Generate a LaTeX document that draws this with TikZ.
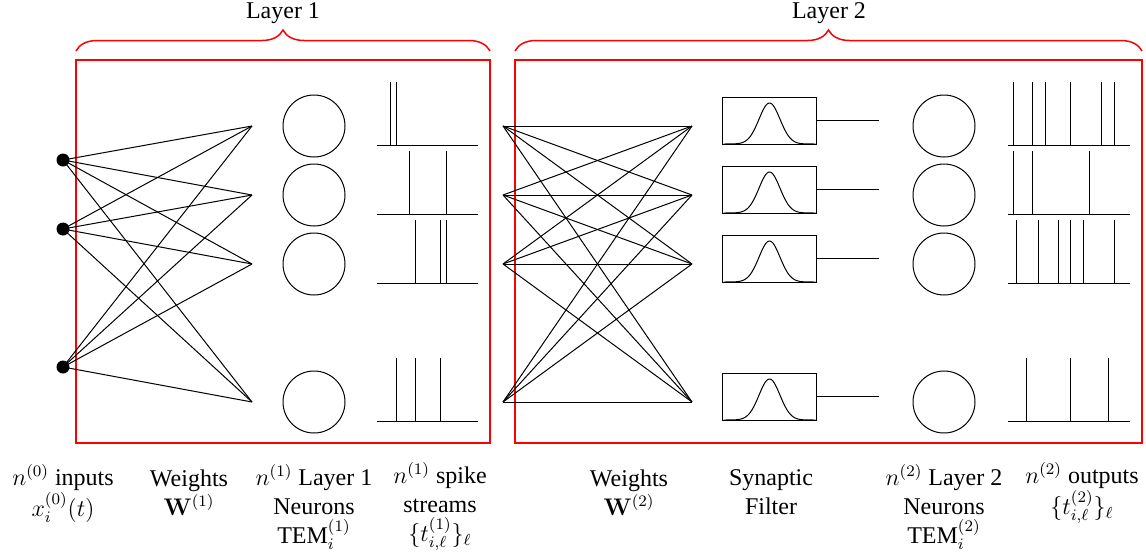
\documentclass[tikz,border=0pt]{standalone}
\usepackage[no-math]{fontspec}
\setmainfont{Liberation Serif}
\usetikzlibrary{decorations.pathreplacing}
\begin{document}
\begin{tikzpicture}[x=0.5pt,y=-0.5pt,
  every node/.style={font=\fontsize{12}{14.6}\selectfont},
  wire/.style={line width=0.5pt},
  redframe/.style={draw=red, line width=0.75pt},
  redbrace/.style={draw=red, line width=0.75pt, decorate, decoration={brace, amplitude=10.5pt}},
  inputdot/.style={circle, fill=black, inner sep=0pt, minimum size=6.5pt},
  neuron/.style={circle, draw, line width=0.5pt, inner sep=0pt, minimum size=31pt},
  filterbox/.style={rectangle, draw, line width=0.5pt, inner sep=0pt, minimum width=47pt, minimum height=23.5pt},
  spike/.style={line width=0.5pt},
  caption/.style={align=center, anchor=north, inner sep=0pt}
]
\useasboundingbox (0,0) rectangle (1146,552);

% frames and braces
\draw[redframe] (76,60) rectangle (490,443);
\draw[redframe] (515,60) rectangle (1142,443);
\draw[redbrace] (76,51) -- (490,51);
\draw[redbrace] (515,51) -- (1142,51);
\node[anchor=base] (lab1) at (283,18.5) {Layer 1};
\node[anchor=base] (lab2) at (829,18.5) {Layer 2};

% inputs
\node[inputdot] (in1) at (63,160) {};
\node[inputdot] (in2) at (63,229) {};
\node[inputdot] (in3) at (63,367) {};

% rows
\foreach \i/\c in {1/126,2/195,3/264,4/402}{
  \coordinate (w1\i) at (252,\c);
  \coordinate (w2a\i) at (503,\c);
  \coordinate (w2b\i) at (692,\c);
  \node[neuron] (n1\i) at (314,\c) {};
  \node[neuron] (n2\i) at (944,\c) {};
  \node[filterbox] (f\i) at (769.5,\c-5.5) {};
  \coordinate (fo\i) at (879,\c-5.5);
  \draw[wire] (f\i.east) -- (fo\i);
  \draw[wire] plot[domain=-46:46, samples=70, smooth] ({769.5+\x},{\c+18-41*exp(-(\x*\x)/220)});
  \coordinate (s1a\i) at (377,\c+19);
  \coordinate (s1b\i) at (478,\c+19);
  \draw[wire] (s1a\i) -- (s1b\i);
  \coordinate (s2a\i) at (1008,\c+19);
  \coordinate (s2b\i) at (1130,\c+19);
  \draw[wire] (s2a\i) -- (s2b\i);
}

% layer 1 weights
\foreach \a in {1,2,3}{
  \foreach \b in {1,2,3,4}{
    \draw[wire] (in\a.center) -- (w1\b);
  }
}
% layer 2 weights
\foreach \a in {1,2,3,4}{
  \foreach \b in {1,2,3,4}{
    \draw[wire] (w2a\a) -- (w2b\b);
  }
}

% spike trains layer 1
\foreach \x in {390,396}{ \draw[spike] (\x,145) -- (\x,82); }
\foreach \x in {409,446}{ \draw[spike] (\x,214) -- (\x,151); }
\foreach \x in {415,440,446}{ \draw[spike] (\x,283) -- (\x,220); }
\foreach \x in {396,415,440}{ \draw[spike] (\x,421) -- (\x,358); }
% spike trains layer 2
\foreach \x in {1013.5,1032,1045,1070.5,1101.5,1114.5}{ \draw[spike] (\x,145) -- (\x,82); }
\foreach \x in {1013.5,1032,1089}{ \draw[spike] (\x,214) -- (\x,151); }
\foreach \x in {1016,1038.5,1058,1070.5,1083,1114.5}{ \draw[spike] (\x,283) -- (\x,220); }
\foreach \x in {1026,1070.5,1108}{ \draw[spike] (\x,421) -- (\x,358); }

% captions
\node[caption] (c1) at (63,464) {$n^{(0)}$ inputs\\$x_i^{(0)}(t)$};
\node[caption] (c2) at (189,469) {Weights\\$\mathbf{W}^{(1)}$};
\node[caption] (c3) at (314,464) {$n^{(1)}$ Layer 1\\Neurons\\TEM$_i^{(1)}$};
\node[caption] (c4) at (440,462) {$n^{(1)}$ spike\\streams\\$\{t_{i,\ell}^{(1)}\}_\ell$};
\node[caption] (c5) at (629,469) {Weights\\$\mathbf{W}^{(2)}$};
\node[caption] (c6) at (771,469) {Synaptic\\Filter};
\node[caption] (c7) at (944,464) {$n^{(2)}$ Layer 2\\Neurons\\TEM$_i^{(2)}$};
\node[caption] (c8) at (1082,462) {$n^{(2)}$ outputs\\$\{t_{i,\ell}^{(2)}\}_\ell$};
\end{tikzpicture}
\end{document}
